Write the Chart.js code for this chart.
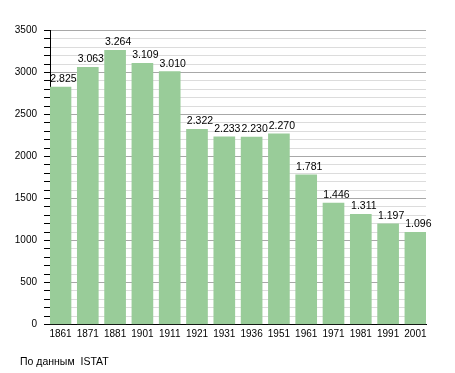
<!DOCTYPE html>
<html>
<head>
<meta charset="utf-8">
<script src="https://cdn.jsdelivr.net/npm/chart.js@4/dist/chart.umd.min.js"></script>
<style>
  html, body { margin: 0; padding: 0; background: #fff; }
  canvas { display: block; }
</style>
</head>
<body>
<canvas id="chart" width="455" height="373"></canvas>
<script>
// census years and population
const years = ['1861', '1871', '1881', '1901', '1911', '1921', '1931', '1936', '1951', '1961', '1971', '1981', '1991', '2001'];
const population = [2825, 3063, 3264, 3109, 3010, 2322, 2233, 2230, 2270, 1781, 1446, 1311, 1197, 1096];
const valueLabels = ['2.825', '3.063', '3.264', '3.109', '3.010', '2.322', '2.233', '2.230', '2.270', '1.781', '1.446', '1.311', '1.197', '1.096'];
const sourceNote = 'По данным  ISTAT';

const FONT = '"Liberation Sans", Arial, sans-serif';

// labels above the bars + source line under the chart
const labelsPlugin = {
  id: 'labels',
  afterDatasetsDraw(chart) {
    const ctx = chart.ctx;
    const meta = chart.getDatasetMeta(0);
    ctx.save();
    ctx.font = '10.5px ' + FONT;
    ctx.fillStyle = '#000';
    ctx.textAlign = 'center';
    ctx.textBaseline = 'alphabetic';
    meta.data.forEach((bar, i) => {
      ctx.fillText(valueLabels[i], bar.x + 3, bar.y - 5);
    });
    ctx.textAlign = 'left';
    ctx.textBaseline = 'middle';
    ctx.fillText(sourceNote, 20, 362);
    ctx.restore();
  }
};

const points = population.map((v, i) => ({ x: i, y: v }));

new Chart(document.getElementById('chart'), {
  type: 'bar',
  data: {
    datasets: [{
      data: points,
      backgroundColor: '#99cc99',
      borderWidth: 0,
      barThickness: 21
    }]
  },
  options: {
    responsive: false,
    animation: false,
    layout: { padding: { left: 0, top: 30.5, right: 29, bottom: 0 } },
    plugins: {
      legend: { display: false },
      tooltip: { enabled: false }
    },
    scales: {
      x: {
        type: 'linear',
        offset: false,
        min: -0.3846,
        max: 13.388,
        afterFit: s => { s.height = 48.5; },
        afterBuildTicks: s => { s.ticks = years.map((y, i) => ({ value: i })); },
        grid: { display: false, drawTicks: false, offset: false },
        border: { display: true, color: '#000', width: 1 },
        ticks: {
          autoSkip: false,
          maxRotation: 0,
          padding: 4,
          color: '#000',
          font: { family: FONT, size: 10 },
          callback: (v, i) => years[i]
        }
      },
      y: {
        min: 0,
        max: 3500,
        afterFit: s => { s.width = 50; },
        grid: {
          color: c => (c.tick && c.tick.value % 500 === 0) ? '#a8a8a8' : '#dcdcdc',
          tickColor: '#000',
          tickLength: 6
        },
        border: { display: true, color: '#000', width: 1 },
        ticks: {
          stepSize: 100,
          autoSkip: false,
          padding: 7,
          color: '#000',
          font: { family: FONT, size: 10 },
          callback: v => (v % 500 === 0 ? v : '')
        }
      }
    }
  },
  plugins: [labelsPlugin]
});
</script>
</body>
</html>
